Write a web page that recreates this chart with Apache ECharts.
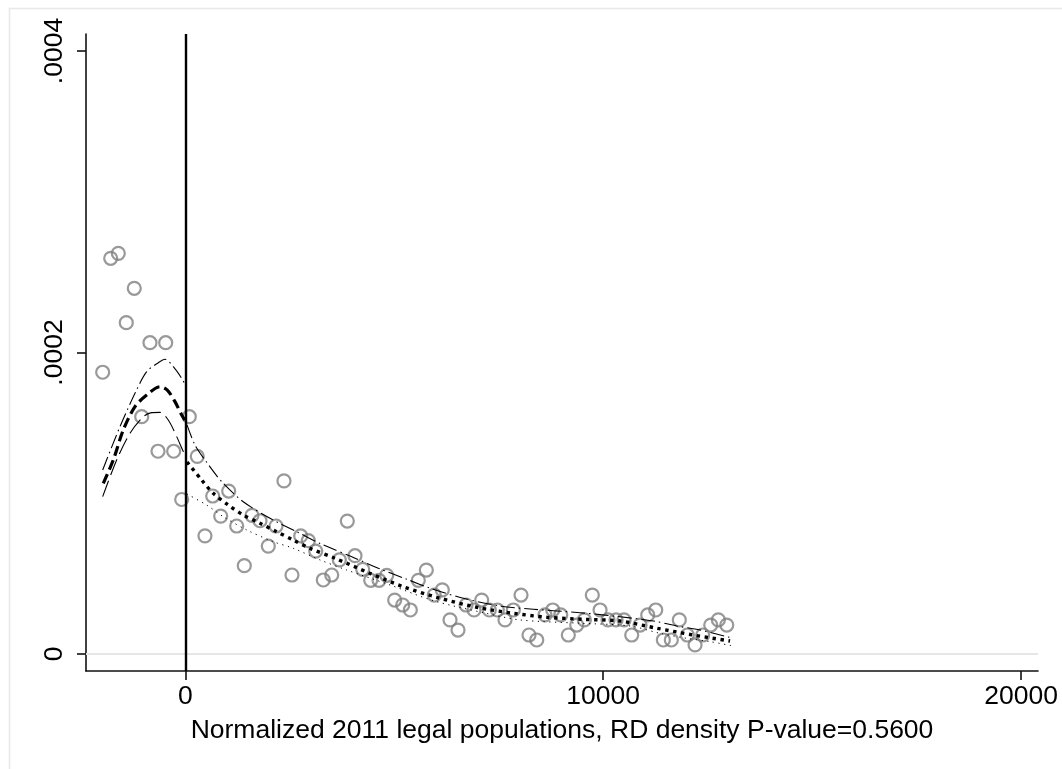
<!DOCTYPE html>
<html>
<head>
<meta charset="utf-8">
<script src="https://cdn.jsdelivr.net/npm/echarts@6/dist/echarts.min.js"></script>
<style>
  html, body { margin: 0; padding: 0; background: #fff; }
  #chart { width: 1062px; height: 769px; }
</style>
</head>
<body>
<div id="chart"></div>
<script>
// Binned density estimates (bin midpoints, normalized population)
const binX = [
  -1977, -1785, -1603, -1412, -1221, -1043, -845, -653, -469, -278, -86,
  96, 287, 471, 656, 847, 1039, 1230, 1412, 1596, 1788, 1986, 2171, 2361, 2553,
  2762, 2944, 3121, 3303, 3504, 3686, 3877, 4061, 4246, 4437, 4636, 4820, 5011,
  5203, 5385, 5576, 5768, 5959, 6150, 6335, 6526, 6718, 6909, 7093, 7275, 7467,
  7651, 7850, 8034, 8225, 8410, 8608, 8793, 8984, 9166, 9367, 9549, 9740, 9925,
  10116, 10308, 10499, 10683, 10882, 11066, 11258, 11440, 11631, 11822, 12014,
  12198, 12382, 12574, 12756, 12957
];
const binY = [
  1.869e-4, 2.625e-4, 2.658e-4, 2.198e-4, 2.426e-4, 1.574e-4, 2.065e-4, 1.345e-4, 2.065e-4, 1.345e-4, 1.025e-4,
  1.574e-4, 1.311e-4, 0.784e-4, 1.048e-4, 0.915e-4, 1.081e-4, 0.849e-4, 0.586e-4, 0.920e-4, 0.884e-4, 0.716e-4,
  0.849e-4, 1.148e-4, 0.524e-4, 0.783e-4, 0.752e-4, 0.683e-4, 0.491e-4, 0.524e-4, 0.624e-4, 0.882e-4, 0.652e-4,
  0.562e-4, 0.489e-4, 0.489e-4, 0.522e-4, 0.358e-4, 0.325e-4, 0.292e-4, 0.489e-4, 0.557e-4, 0.391e-4, 0.425e-4,
  0.226e-4, 0.159e-4, 0.325e-4, 0.292e-4, 0.358e-4, 0.292e-4, 0.292e-4, 0.226e-4, 0.292e-4, 0.391e-4, 0.126e-4,
  0.093e-4, 0.259e-4, 0.292e-4, 0.259e-4, 0.126e-4, 0.192e-4, 0.226e-4, 0.391e-4, 0.292e-4, 0.226e-4, 0.226e-4,
  0.226e-4, 0.126e-4, 0.192e-4, 0.259e-4, 0.292e-4, 0.093e-4, 0.093e-4, 0.226e-4, 0.126e-4, 0.060e-4, 0.126e-4,
  0.192e-4, 0.226e-4, 0.192e-4
];

// Local polynomial density fit and confidence band, left of the cutoff
const leftFit = [
  [-1962, 1.132e-4], [-1723, 1.287e-4], [-1484, 1.486e-4], [-1204, 1.641e-4],
  [-924, 1.718e-4], [-605, 1.773e-4], [-431, 1.751e-4], [-247, 1.674e-4],
  [-86, 1.585e-4], [-10, 1.552e-4]
];
const leftUpper = [
  [-1977, 1.221e-4], [-1563, 1.508e-4], [-1204, 1.729e-4], [-924, 1.873e-4],
  [-646, 1.932e-4], [-486, 1.955e-4], [-287, 1.906e-4], [-86, 1.829e-4], [-10, 1.790e-4]
];
const leftLower = [
  [-1977, 1.044e-4], [-1642, 1.287e-4], [-1323, 1.464e-4], [-1005, 1.574e-4],
  [-804, 1.601e-4], [-605, 1.603e-4], [-407, 1.552e-4], [-206, 1.442e-4],
  [-86, 1.367e-4], [-10, 1.320e-4]
];

// Density fit and confidence band, right of the cutoff
const rightFit = [
  [41, 1.274e-4], [392, 1.154e-4], [670, 1.066e-4], [1029, 0.988e-4], [1388, 0.922e-4],
  [1788, 0.867e-4], [2187, 0.811e-4], [2585, 0.756e-4], [2984, 0.701e-4], [3583, 0.635e-4],
  [4420, 0.535e-4], [5217, 0.446e-4], [6017, 0.376e-4], [6974, 0.310e-4], [7850, 0.270e-4],
  [8649, 0.244e-4], [9525, 0.230e-4], [10403, 0.219e-4], [11282, 0.171e-4], [12158, 0.126e-4],
  [13036, 0.086e-4]
];
const rightUpper = [
  [41, 1.520e-4], [232, 1.386e-4], [471, 1.287e-4], [871, 1.143e-4], [1388, 1.010e-4],
  [2027, 0.900e-4], [2666, 0.811e-4], [3303, 0.723e-4], [3942, 0.650e-4], [4619, 0.569e-4],
  [5299, 0.496e-4], [5935, 0.429e-4], [6653, 0.370e-4], [7531, 0.318e-4], [8328, 0.297e-4],
  [9446, 0.274e-4], [10403, 0.247e-4], [11200, 0.219e-4], [11760, 0.186e-4], [12318, 0.159e-4],
  [13115, 0.104e-4]
];
const rightLower = [
  [41, 1.061e-4], [512, 0.988e-4], [909, 0.911e-4], [1469, 0.823e-4], [2106, 0.745e-4],
  [2585, 0.701e-4], [3224, 0.624e-4], [3863, 0.557e-4], [4899, 0.458e-4], [5935, 0.354e-4],
  [7132, 0.274e-4], [8010, 0.226e-4], [9446, 0.204e-4], [10643, 0.186e-4], [11361, 0.137e-4],
  [11999, 0.104e-4], [12557, 0.082e-4], [13115, 0.053e-4]
];

// Axis ticks
const xTicks = [0, 10000, 20000];
const yTicks = [0, 0.0002, 0.0004];
const yTickLabels = ['0', '.0002', '.0004'];
const yGridValues = [0, 0.0002];
const cutoff = 0;
const xTitle = 'Normalized 2011 legal populations, RD density P-value=0.5600';

const FONT = "'Liberation Sans', Helvetica, Arial, sans-serif";
const FONT_SIZE = 26.5;

const chart = echarts.init(document.getElementById('chart'), null, { renderer: 'canvas' });

function curve(data, width, dash, z) {
  return {
    type: 'line',
    data: data,
    smooth: 0.3,
    symbol: 'none',
    silent: true,
    z: z || 4,
    lineStyle: { color: '#000', width: width, type: dash, cap: 'butt' }
  };
}

chart.setOption({
  animation: false,
  backgroundColor: '#fff',
  graphic: [{
    type: 'rect',
    shape: { x: 9.5, y: 8.5, width: 1080, height: 800 },
    style: { fill: 'none', stroke: '#e8e8e8', lineWidth: 1.5 },
    silent: true,
    z: -1
  }],
  grid: { left: 86, right: 24, top: 34, bottom: 98, containLabel: false },
  xAxis: {
    type: 'value',
    min: -2376,
    max: 20405,
    name: xTitle,
    nameLocation: 'middle',
    nameGap: 46,
    nameTextStyle: { fontFamily: FONT, fontSize: FONT_SIZE, color: '#000' },
    axisLine: { show: true, onZero: false, lineStyle: { color: '#111', width: 1.6 } },
    axisTick: { show: true, customValues: xTicks, length: 9, lineStyle: { color: '#111', width: 1.6 } },
    axisLabel: {
      customValues: xTicks, margin: 12,
      fontFamily: FONT, fontSize: FONT_SIZE, color: '#000',
      formatter: v => String(v)
    },
    splitLine: { show: false }
  },
  yAxis: {
    type: 'value',
    min: -1.128e-5,
    max: 4.1128e-4,
    axisLine: { show: true, onZero: false, lineStyle: { color: '#111', width: 1.6 } },
    axisTick: { show: true, customValues: yTicks, length: 9, lineStyle: { color: '#111', width: 1.6 } },
    axisLabel: {
      customValues: yTicks, rotate: 90, margin: 18,
      fontFamily: FONT, fontSize: FONT_SIZE, color: '#000',
      formatter: v => {
        const i = yTicks.findIndex(t => Math.abs(t - v) < 1e-9);
        return i >= 0 ? yTickLabels[i] : '';
      }
    },
    splitLine: { show: false }
  },
  series: [
    {
      // horizontal gridlines
      type: 'line',
      data: [],
      z: 1,
      silent: true,
      markLine: {
        silent: true,
        symbol: 'none',
        label: { show: false },
        animation: false,
        data: yGridValues.map(v => ({ yAxis: v, lineStyle: { color: '#e6e6e6', width: 2, type: 'solid' } }))
      }
    },
    {
      type: 'scatter',
      data: binX.map((x, i) => [x, binY[i]]),
      symbol: 'circle',
      symbolSize: 13,
      z: 2,
      silent: true,
      itemStyle: { color: 'rgba(0,0,0,0)', borderColor: '#808080', borderWidth: 2.2 }
    },
    curve(leftFit, 3.2, [10, 5]),
    curve(leftUpper, 1.1, [14, 4, 1.5, 4]),
    curve(leftLower, 1.1, [17, 6]),
    curve(rightFit, 3.4, [3.4, 4.6]),
    curve(rightUpper, 1.1, [14, 4, 1.5, 4]),
    curve(rightLower, 1, [1.2, 4.5]),
    {
      // cutoff line
      type: 'line',
      data: [],
      z: 5,
      silent: true,
      markLine: {
        silent: true,
        symbol: 'none',
        label: { show: false },
        animation: false,
        data: [{ xAxis: cutoff, lineStyle: { color: '#000', width: 2.4, type: 'solid' } }]
      }
    }
  ]
});
</script>
</body>
</html>
